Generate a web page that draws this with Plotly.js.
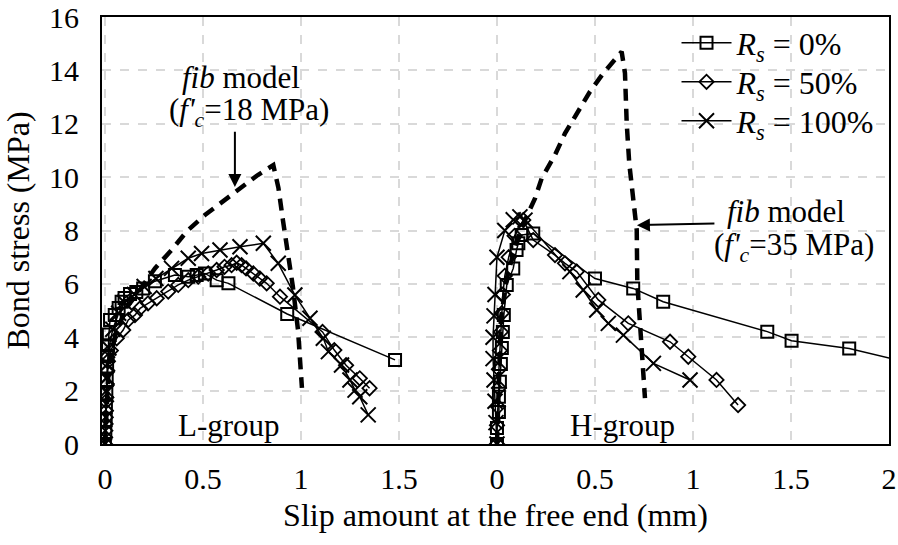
<!DOCTYPE html>
<html>
<head>
<meta charset="utf-8">
<script src="https://cdn.plot.ly/plotly-3.0.1.min.js"></script>
<style>html,body{margin:0;padding:0;background:#fff;}#chart{width:898px;height:545px;}</style>
</head>
<body>
<div id="chart"></div>
<script>
// ---- data (slip in mm, bond stress in MPa) ----
// H-group is drawn on the same axis shifted by this offset (its own scale restarts at 0)
var hOffset = 2.0;

var tickVals = [0, 0.5, 1, 1.5, 2, 2.5, 3, 3.5, 4];
var tickText = ["0", "0.5", "1", "1.5", "0", "0.5", "1", "1.5", "2"];

// L-group
var L0x = [0, 0.002, 0.004, 0.005, 0.007, 0.009, 0.011, 0.013, 0.016, 0.02, 0.026, 0.05, 0.07, 0.085, 0.1, 0.128, 0.16, 0.195, 0.255, 0.357, 0.425, 0.468, 0.51, 0.57, 0.63, 0.93, 1.48];
var L0y = [0, 0.4, 0.9, 1.4, 1.9, 2.4, 2.9, 3.3, 3.7, 4.1, 4.65, 4.83, 5.1, 5.33, 5.47, 5.62, 5.7, 5.83, 6.1, 6.33, 6.27, 6.33, 6.39, 6.14, 6.02, 4.87, 3.15];

var L50x = [0, 0.002, 0.004, 0.006, 0.008, 0.01, 0.015, 0.03, 0.06, 0.093, 0.119, 0.153, 0.179, 0.22, 0.264, 0.323, 0.374, 0.425, 0.476, 0.527, 0.57, 0.61, 0.646, 0.672, 0.697, 0.72, 0.757, 0.79, 0.825, 0.893, 1.11, 1.17, 1.23, 1.30, 1.35];
var L50y = [0, 0.5, 1.0, 1.6, 2.2, 2.7, 3.1, 3.5, 3.96, 4.27, 4.65, 4.83, 5.08, 5.27, 5.46, 5.71, 5.96, 6.14, 6.27, 6.39, 6.52, 6.64, 6.7, 6.79, 6.7, 6.58, 6.39, 6.2, 6.02, 5.52, 4.2, 3.52, 2.95, 2.46, 2.09];

var L100x = [0, 0.002, 0.004, 0.006, 0.008, 0.01, 0.013, 0.02, 0.04, 0.07, 0.1, 0.15, 0.2, 0.26, 0.34, 0.425, 0.493, 0.587, 0.689, 0.808, 0.884, 0.969, 1.046, 1.114, 1.14, 1.207, 1.25, 1.276, 1.30, 1.343];
var L100y = [0, 0.5, 1.0, 1.5, 2.0, 2.5, 3.0, 3.6, 4.3, 4.9, 5.3, 5.6, 5.9, 6.2, 6.58, 6.96, 7.14, 7.27, 7.39, 7.52, 6.77, 5.58, 4.71, 3.96, 3.46, 2.96, 2.4, 2.02, 1.77, 1.09];

var LfibX = [0, 0.02, 0.06, 0.12, 0.18, 0.255, 0.34, 0.42, 0.51, 0.60, 0.69, 0.78, 0.859, 0.885, 0.908, 0.934, 0.959, 0.985, 1.005];
var LfibY = [0, 3.0, 4.3, 5.2, 5.8, 6.58, 7.27, 7.99, 8.58, 9.08, 9.58, 10.08, 10.45, 9.6, 8.39, 7.16, 5.88, 4.27, 2.1];

// H-group (own slip scale)
var H0x = [0, 0.0, 0.01, 0.01, 0.015, 0.02, 0.025, 0.03, 0.035, 0.05, 0.083, 0.1, 0.109, 0.126, 0.185, 0.5, 0.695, 0.848, 1.379, 1.503, 1.797, 2.2];
var H0y = [0, 0.6, 1.2, 1.77, 2.33, 3.0, 3.6, 4.2, 4.83, 5.96, 6.58, 7.27, 7.52, 7.83, 7.89, 6.2, 5.83, 5.33, 4.21, 3.87, 3.58, 2.87];

var H50x = [0, 0.0, 0.005, 0.01, 0.01, 0.015, 0.02, 0.025, 0.03, 0.04, 0.06, 0.09, 0.134, 0.185, 0.296, 0.347, 0.407, 0.517, 0.67, 0.883, 0.976, 1.12, 1.23];
var H50y = [0, 0.7, 1.4, 2.1, 2.8, 3.5, 4.2, 4.9, 5.6, 6.3, 7.0, 7.8, 8.39, 7.64, 7.08, 6.77, 6.46, 5.4, 4.52, 3.83, 3.27, 2.4, 1.46];

var H100x = [0, -0.005, -0.01, -0.015, -0.02, -0.02, -0.015, -0.01, 0.0, 0.04, 0.083, 0.117, 0.143, 0.372, 0.44, 0.509, 0.568, 0.645, 0.798, 0.985];
var H100y = [0, 0.8, 1.6, 2.4, 3.2, 4.0, 4.8, 5.6, 7.0, 8.0, 8.4, 8.51, 8.39, 6.46, 5.77, 5.02, 4.52, 4.08, 3.02, 2.4];

var HfibX = [0, 0.02, 0.05, 0.1, 0.15, 0.194, 0.228, 0.296, 0.347, 0.415, 0.474, 0.542, 0.61, 0.636, 0.653, 0.662, 0.675, 0.695, 0.713, 0.716, 0.738, 0.755];
var HfibY = [0, 4.7, 6.2, 7.6, 8.5, 9.2, 9.95, 10.83, 11.64, 12.45, 13.2, 13.89, 14.51, 14.7, 13.9, 12.0, 10.5, 9.14, 8.02, 6.02, 3.77, 1.72];

var seriesNames = ["<i>R<sub>s</sub></i> = 0%", "<i>R<sub>s</sub></i> = 50%", "<i>R<sub>s</sub></i> = 100%"];

// ---- build ----
function join(lx, ly, hx, hy) {
  var x = lx.slice(), y = ly.slice();
  x.push(null); y.push(null);
  hx.forEach(function (v) { x.push(v + hOffset); });
  hy.forEach(function (v) { y.push(v); });
  return {x: x, y: y};
}
var FONT = "Liberation Serif";
var TXT = 32;
var fib = join(LfibX, LfibY, HfibX, HfibY);
var s0 = join(L0x, L0y, H0x, H0y);
var s50 = join(L50x, L50y, H50x, H50y);
var s100 = join(L100x, L100y, H100x, H100y);

var traces = [
  {x: fib.x, y: fib.y, mode: "lines", showlegend: false, hoverinfo: "skip",
   line: {color: "#000", width: 4.5, dash: "12px,8px"}},
  {x: s0.x, y: s0.y, name: seriesNames[0], mode: "lines+markers", legend: "legend",
   line: {color: "#000", width: 1.5},
   marker: {symbol: "square-open", size: 12, color: "#000", line: {width: 2}}},
  {x: s50.x, y: s50.y, name: seriesNames[1], mode: "lines+markers", legend: "legend2",
   line: {color: "#000", width: 1.5},
   marker: {symbol: "diamond-open", size: 11, color: "#000", line: {width: 1.8}}},
  {x: s100.x, y: s100.y, name: seriesNames[2], mode: "lines+markers", legend: "legend3",
   line: {color: "#000", width: 1.5},
   marker: {symbol: "x-thin-open", size: 15, color: "#000", line: {width: 2}}}
];

function af(s) { return {family: FONT, size: s || TXT, color: "#000"}; }
var ann = [
  {x: 0.694, y: 13.75, xref: "x", yref: "y", text: "<i>fib</i> model", showarrow: false, font: af(31)},
  {x: 0.735, y: 12.44, xref: "x", yref: "y", text: "(<i>f'</i><sub><i>c</i></sub>=18 MPa)", showarrow: false, font: af(31)},
  {x: 0.663, y: 9.63, xref: "x", yref: "y", ax: 0.663, ay: 11.76, axref: "x", ayref: "y", text: "", showarrow: true, arrowhead: 2, arrowsize: 1.3, arrowwidth: 2, arrowcolor: "#000"},
  {x: 3.474, y: 8.7, xref: "x", yref: "y", text: "<i>fib</i> model", showarrow: false, font: af(31)},
  {x: 3.515, y: 7.40, xref: "x", yref: "y", text: "(<i>f'</i><sub><i>c</i></sub>=35 MPa)", showarrow: false, font: af(31)},
  {x: 2.714, y: 8.2, xref: "x", yref: "y", ax: 3.117, ay: 8.26, axref: "x", ayref: "y", text: "", showarrow: true, arrowhead: 2, arrowsize: 1.3, arrowwidth: 2, arrowcolor: "#000"},
  {x: 0.633, y: 0.71, xref: "x", yref: "y", text: "L-group", showarrow: false, font: af(31)},
  {x: 2.638, y: 0.71, xref: "x", yref: "y", text: "H-group", showarrow: false, font: af(31)}
];

function leg(ypx) {
  return {x: 0.73, y: (444 - ypx) / 427, xanchor: "left", yanchor: "middle", bgcolor: "rgba(0,0,0,0)", borderwidth: 0,
          font: af(), itemwidth: 50};
}

var layout = {
  width: 898, height: 545,
  margin: {l: 102, r: 9, t: 17, b: 101},
  paper_bgcolor: "#fff", plot_bgcolor: "#fff",
  font: af(),
  showlegend: true,
  legend: leg(43), legend2: leg(82), legend3: leg(121),
  shapes: [
    // white backing box behind the legend entries (covers gridlines only)
    {type: "rect", xref: "paper", yref: "paper", x0: (673 - 102) / 787, x1: 1, y0: (444 - 134) / 427, y1: (444 - 28) / 427,
     fillcolor: "#fff", line: {width: 0}, layer: "between"}
  ],
  xaxis: {range: [-0.015, 4.0], tickvals: tickVals, ticktext: tickText, showline: true, mirror: true,
          linecolor: "#000", linewidth: 2, showgrid: true, gridcolor: "#d9d9d9", gridwidth: 2, griddash: "dash",
          zeroline: false, ticks: "", ticklabelstandoff: 7, tickfont: af(30),
          title: {text: "Slip amount at the free end (mm)", font: af(), standoff: 10}},
  yaxis: {range: [0, 16], dtick: 2, showline: true, mirror: true, linecolor: "#000", linewidth: 2,
          showgrid: true, gridcolor: "#d9d9d9", gridwidth: 2, griddash: "dash", zeroline: false,
          ticks: "", ticklabelstandoff: 15, tickfont: af(30),
          title: {text: "Bond stress (MPa)", font: af(), standoff: 15}},
  annotations: ann
};

Plotly.newPlot("chart", traces, layout, {staticPlot: true, displayModeBar: false});
</script>
</body>
</html>
